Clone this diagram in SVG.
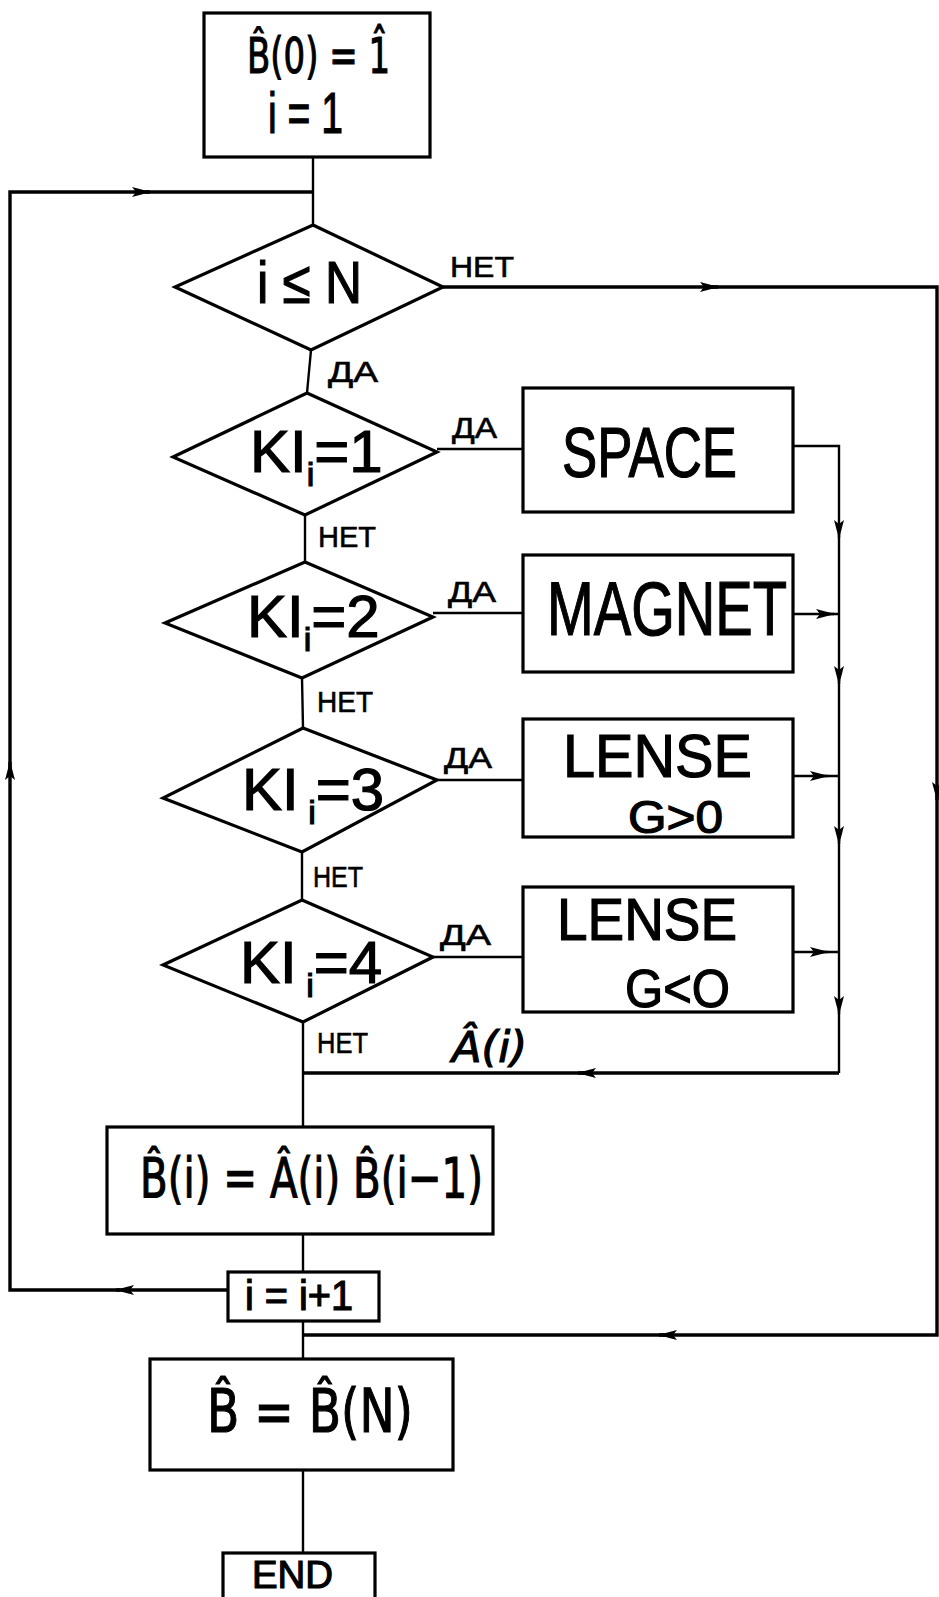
<svg xmlns="http://www.w3.org/2000/svg" width="939" height="1597" viewBox="0 0 939 1597">
<defs>
<marker id="arr" viewBox="0 0 20 12" refX="18" refY="6" markerWidth="20" markerHeight="12" markerUnits="userSpaceOnUse" orient="auto">
<path d="M0,1 L19,6 L0,11 L4,6 Z" fill="#000"/>
</marker>
<style>
.box{fill:#fff;stroke:#000;stroke-width:3.2}
.dia{fill:#fff;stroke:#000;stroke-width:3.2;stroke-linejoin:miter}
.ln{fill:none;stroke:#000;stroke-width:2.4}
.th{fill:none;stroke:#000;stroke-width:3.4}
.t{font-family:"Liberation Sans","DejaVu Sans",sans-serif;fill:#000;stroke:#000;stroke-width:1.2}
.h{font-family:"DejaVu Sans","Liberation Sans",sans-serif;fill:#000;stroke:#000;stroke-width:1.2}
.lbl{font-family:"Liberation Sans","DejaVu Sans",sans-serif;fill:#000;font-size:30px;stroke:#000;stroke-width:0.6}
</style>
</defs>
<rect width="939" height="1597" fill="#fff"/>

<g id="connectors">
<path class="ln" d="M313,157 L313,225"/>
<path class="ln" d="M311,350 L307,393"/>
<path class="ln" d="M305,515 L305,562"/>
<path class="ln" d="M302,678 L303,728"/>
<path class="ln" d="M302,852 L302,900"/>
<path class="ln" d="M303,1022 L303,1127"/>
<path class="ln" d="M303,1234 L303,1272"/>
<path class="ln" d="M303,1321 L303,1359"/>
<path class="ln" d="M303,1470 L303,1553"/>
<path class="th" d="M228,1290 L116,1290" marker-end="url(#arr)"/>
<path class="th" d="M120,1290 L10,1290 L10,762" marker-end="url(#arr)"/>
<path class="th" d="M10,770 L10,192 L150,192" marker-end="url(#arr)"/>
<path class="th" d="M145,192 L313,192"/>
<path class="th" d="M443,287 L718,287" marker-end="url(#arr)"/>
<path class="th" d="M712,287 L937,287 L937,800" marker-end="url(#arr)"/>
<path class="th" d="M937,795 L937,1335 L659,1335" marker-end="url(#arr)"/>
<path class="th" d="M665,1335 L303,1335"/>
<path class="ln" d="M437,449 L523,449"/>
<path class="ln" d="M433,613 L523,613"/>
<path class="ln" d="M437,780 L523,780"/>
<path class="ln" d="M433,957 L523,957"/>
<path class="ln" d="M793,446 L839,446 L839,538" marker-end="url(#arr)"/>
<path class="ln" d="M839,534 L839,684" marker-end="url(#arr)"/>
<path class="ln" d="M839,680 L839,844" marker-end="url(#arr)"/>
<path class="ln" d="M839,840 L839,1014" marker-end="url(#arr)"/>
<path class="ln" d="M839,1010 L839,1073"/>
<path class="ln" d="M793,614 L834,614" marker-end="url(#arr)"/>
<path class="ln" d="M793,776 L828,776" marker-end="url(#arr)"/>
<path class="ln" d="M793,952 L828,952" marker-end="url(#arr)"/>
<path class="ln" d="M828,614 L839,614 M822,776 L839,776 M822,952 L839,952"/>
<path class="th" d="M839,1073 L578,1073" marker-end="url(#arr)"/>
<path class="th" d="M584,1073 L303,1073"/>
<text class="lbl" x="450" y="277" font-size="28" textLength="64" lengthAdjust="spacingAndGlyphs">НЕТ</text>
<text class="lbl" x="328" y="382" font-size="30" textLength="50" lengthAdjust="spacingAndGlyphs">ДА</text>
<text class="lbl" x="452" y="438" textLength="45" lengthAdjust="spacingAndGlyphs">ДА</text>
<text class="lbl" x="318" y="547" font-size="32" textLength="58" lengthAdjust="spacingAndGlyphs">НЕТ</text>
<text class="lbl" x="448" y="602" textLength="48" lengthAdjust="spacingAndGlyphs">ДА</text>
<text class="lbl" x="317" y="712" font-size="32" textLength="56" lengthAdjust="spacingAndGlyphs">НЕТ</text>
<text class="lbl" x="444" y="768" textLength="48" lengthAdjust="spacingAndGlyphs">ДА</text>
<text class="lbl" x="313" y="887" font-size="32" textLength="50" lengthAdjust="spacingAndGlyphs">НЕТ</text>
<text class="lbl" x="440" y="945" textLength="51" lengthAdjust="spacingAndGlyphs">ДА</text>
<text class="lbl" x="317" y="1053" font-size="32" textLength="51" lengthAdjust="spacingAndGlyphs">НЕТ</text>
<text class="h" x="452" y="1062" font-size="42" font-style="italic" textLength="75" lengthAdjust="spacingAndGlyphs">Â(i)</text>
</g>

<g id="start">
<rect class="box" x="204" y="13" width="226" height="144"/>
<text class="h" x="247" y="73" font-size="50" textLength="143" lengthAdjust="spacingAndGlyphs">B̂(0) = 1̂</text>
<text class="t" x="268" y="133" font-size="58" textLength="75" lengthAdjust="spacingAndGlyphs">i = 1</text>
</g>

<g id="cond_iN">
<polygon class="dia" points="313,225 443,287 311,350 175,287"/>
<text class="t" x="257" y="303" font-size="60" textLength="105" lengthAdjust="spacingAndGlyphs">i ≤ N</text>
</g>

<g id="cond_k1">
<polygon class="dia" points="307,393 437,452 305,515 173,457"/>
<text class="t" x="250" y="472" font-size="60">KI<tspan font-size="34" dy="14">i</tspan><tspan dy="-14">=1</tspan></text>
</g>

<g id="cond_k2">
<polygon class="dia" points="305,562 433,617 302,678 165,623"/>
<text class="t" x="247" y="637" font-size="60">KI<tspan font-size="34" dy="14">i</tspan><tspan dy="-14">=2</tspan></text>
</g>

<g id="cond_k3">
<polygon class="dia" points="303,728 437,780 302,852 163,798"/>
<text class="t" x="242" y="810" font-size="60">KI<tspan font-size="34" dy="14"> i</tspan><tspan dy="-14">=3</tspan></text>
</g>

<g id="cond_k4">
<polygon class="dia" points="302,900 433,957 303,1022 163,965"/>
<text class="t" x="240" y="983" font-size="60">KI<tspan font-size="34" dy="14"> i</tspan><tspan dy="-14">=4</tspan></text>
</g>

<g id="space">
<rect class="box" x="523" y="388" width="270" height="124"/>
<text class="t" x="562" y="477" font-size="70" textLength="175" lengthAdjust="spacingAndGlyphs">SPACE</text>
</g>

<g id="magnet">
<rect class="box" x="523" y="555" width="270" height="117"/>
<text class="t" x="547" y="635" font-size="76" textLength="240" lengthAdjust="spacingAndGlyphs">MAGNET</text>
</g>

<g id="lense_pos">
<rect class="box" x="523" y="719" width="270" height="118"/>
<text class="t" x="563" y="777" font-size="62" textLength="189" lengthAdjust="spacingAndGlyphs">LENSE</text>
<text class="t" x="628" y="833" font-size="46" textLength="95" lengthAdjust="spacingAndGlyphs">G&gt;0</text>
</g>

<g id="lense_neg">
<rect class="box" x="523" y="887" width="270" height="125"/>
<text class="t" x="557" y="940" font-size="60" textLength="180" lengthAdjust="spacingAndGlyphs">LENSE</text>
<text class="t" x="625" y="1007" font-size="54" textLength="105" lengthAdjust="spacingAndGlyphs">G&lt;O</text>
</g>

<g id="product">
<rect class="box" x="107" y="1127" width="386" height="107"/>
<text class="h" x="140" y="1197" font-size="56" textLength="343" lengthAdjust="spacingAndGlyphs">B̂(i) = Â(i) B̂(i−1)</text>
</g>

<g id="increment">
<rect class="box" x="228" y="1272" width="151" height="49"/>
<text class="t" x="245" y="1310" font-size="42" textLength="108" lengthAdjust="spacingAndGlyphs">i = i+1</text>
</g>

<g id="result">
<rect class="box" x="150" y="1359" width="303" height="111"/>
<text class="h" x="207" y="1432" font-size="60" textLength="206" lengthAdjust="spacingAndGlyphs">B̂ = B̂(N)</text>
</g>

<g id="end">
<rect class="box" x="223" y="1553" width="152" height="60"/>
<text class="t" x="252" y="1588" font-size="38" textLength="81" lengthAdjust="spacingAndGlyphs">END</text>
</g>
</svg>
